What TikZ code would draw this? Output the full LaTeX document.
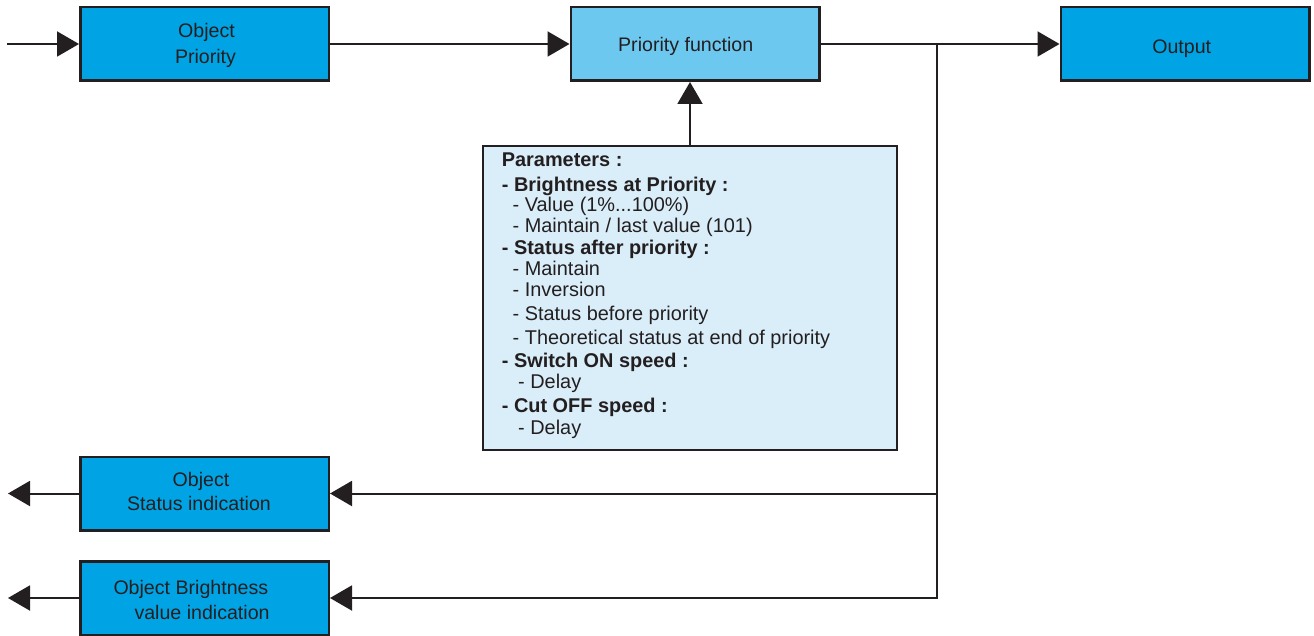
\documentclass[tikz,border=0pt]{standalone}
\usepackage{fontspec}
\setmainfont{Liberation Sans}
\usetikzlibrary{arrows.meta}
\definecolor{boxblue}{RGB}{0,163,228}
\definecolor{lightblue}{RGB}{109,200,240}
\definecolor{paleblue}{RGB}{218,238,249}
\definecolor{ink}{RGB}{35,31,32}
\begin{document}
\begin{tikzpicture}[x=1pt,y=-1pt,
  every node/.style={font=\fontsize{19.6}{24}\selectfont, text=ink},
  blk/.style={draw=ink, line width=2.5pt, fill=boxblue, minimum width=248.5pt, minimum height=73.5pt, inner sep=0pt},
  lbl/.style={anchor=base, inner sep=0pt},
  lblw/.style={anchor=base west, inner sep=0pt},
  conn/.style={draw=ink, line width=2pt},
  arr/.style={conn, -{Triangle[length=22pt,width=25pt]}},
  ptxt/.style={anchor=base west, inner sep=0pt, font=\fontsize{19.9}{24}\selectfont}]
\useasboundingbox (0,0) rectangle (1314,636);

% blocks
\node[blk] (oprio) at (204.5,44) {};
\node[blk, fill=lightblue] (pf) at (695,44) {};
\node[blk] (out) at (1185,44) {};
\node[blk] (status) at (204.5,493.5) {};
\node[blk] (bright) at (204.5,598) {};
\node[draw=ink, line width=2.5pt, fill=paleblue, minimum width=414pt, minimum height=304pt, inner sep=0pt] (params) at (690,298) {};

% block labels
\node[lbl] (op1) at (206.5,38) {Object};
\node[lbl] (op2) at (205.5,64) {Priority};
\node[lbl] (pftxt) at (685.7,51.7) {Priority function};
\node[lbl] (outtxt) at (1181.7,53.3) {Output};
\node[lbl] (st1) at (201,486) {Object};
\node[lbl] (st2) at (199,510) {Status indication};
\node[lblw] (br1) at (113.3,594) {Object Brightness};
\node[lblw] (br2) at (134.3,619) {value indication};

% parameter text
\node[ptxt] (p1) at (501.7,166.7) {\bfseries Parameters :};
\node[ptxt] (p2) at (501.7,191.7) {\bfseries - Brightness at Priority :};
\node[ptxt] (p3) at (512.5,211.7) {- Value (1\%...100\%)};
\node[ptxt] (p4) at (512.5,232.7) {- Maintain / last value (101)};
\node[ptxt] (p5) at (501.7,255) {\bfseries - Status after priority :};
\node[ptxt] (p6) at (512.5,276) {- Maintain};
\node[ptxt] (p7) at (512.5,296.7) {- Inversion};
\node[ptxt] (p8) at (512.5,320) {- Status before priority};
\node[ptxt] (p9) at (512.5,344) {- Theoretical status at end of priority};
\node[ptxt] (p10) at (501.7,367.7) {\bfseries - Switch ON speed :};
\node[ptxt] (p11) at (518,388.7) {- Delay};
\node[ptxt] (p12) at (501.7,412.7) {\bfseries - Cut OFF speed :};
\node[ptxt] (p13) at (518,434.7) {- Delay};

% free ends and junctions
\coordinate (in) at (7,44);
\coordinate (j) at (937,44);
\coordinate (j1) at (937,493.5);
\coordinate (j2) at (937,598);
\coordinate (sout) at (8,493.5);
\coordinate (bout) at (8,598);

% connectors
\draw[arr] (in) -- (oprio.west);
\draw[arr] (oprio.east) -- (pf.west);
\draw[arr] (pf.east) -- (out.west);
\draw[arr] (params.north) -- (params.north |- pf.south);
\draw[arr] (j) -- (j2) -- (bright.east);
\draw[arr] (j1) -- (status.east);
\draw[arr] (status.west) -- (sout);
\draw[arr] (bright.west) -- (bout);
\end{tikzpicture}
\end{document}
